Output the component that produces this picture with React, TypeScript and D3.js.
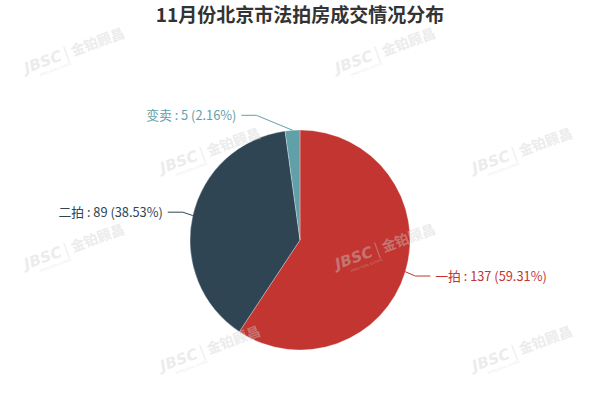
import { useEffect, useRef } from 'react';
import * as d3 from 'd3';

const titleText = '11月份北京市法拍房成交情况分布';
const categories = ['一拍', '二拍', '变卖'];
const values = [137, 89, 5];
const colors = ['#c23531', '#2f4554', '#61a0a8'];

const FONT = '"Microsoft YaHei", "Noto Sans CJK SC", sans-serif';

export default function App() {
  const svgRef = useRef<SVGSVGElement>(null);

  useEffect(() => {
    if (!svgRef.current) return;
    const width = 600;
    const height = 400;
    const cx = width / 2;
    const cy = height * 0.6;
    const radius = 110;
    const len = 15;
    const len2 = 15;

    const root = d3.select(svgRef.current);
    root.selectAll('*').remove();
    root.attr('width', width).attr('height', height);

    root.append('rect').attr('width', width).attr('height', height).attr('fill', '#ffffff');

    // title
    root
      .append('text')
      .attr('x', cx)
      .attr('y', 22)
      .attr('text-anchor', 'middle')
      .attr('font-family', FONT)
      .attr('font-size', 19)
      .attr('font-weight', 'bold')
      .attr('fill', '#333')
      .text(titleText);

    const data = categories.map((c, i) => ({ name: c, value: values[i], color: colors[i] }));
    const total = d3.sum(values);

    const pie = d3
      .pie<{ name: string; value: number; color: string }>()
      .sort(null)
      .value(d => d.value)
      .startAngle(0)
      .endAngle(Math.PI * 2);
    const arcs = pie(data);
    const arc = d3.arc<d3.PieArcDatum<any>>().innerRadius(0).outerRadius(radius);

    const g = root.append('g').attr('transform', `translate(${cx},${cy})`);
    g.selectAll('path.slice')
      .data(arcs)
      .join('path')
      .attr('class', 'slice')
      .attr('d', arc as any)
      .attr('fill', d => d.data.color)
      .attr('stroke', '#fff')
      .attr('stroke-width', 0.3);

    // labels + label lines
    arcs.forEach(a => {
      const mid = (a.startAngle + a.endAngle) / 2;
      const dx = Math.sin(mid);
      const dy = -Math.cos(mid);
      const dir = dx < 0 ? -1 : 1;
      const p0 = [cx + radius * dx, cy + radius * dy];
      const y1 = cy + (radius + len) * dy;
      const deltaY = Math.abs(y1 - cy);
      const R = radius + len + len2;
      const deltaX = Math.sqrt(Math.max(R * R - deltaY * deltaY, 0));
      const textX = cx + dir * deltaX;
      const lineEnd = textX - dir * 5;
      const x1 = lineEnd - dir * len2;

      root
        .append('path')
        .attr('d', d3.line()([[p0[0], p0[1]], [x1, y1], [lineEnd, y1]]))
        .attr('fill', 'none')
        .attr('stroke', a.data.color)
        .attr('stroke-width', 1);

      const pct = ((a.data.value / total) * 100).toFixed(2);
      root
        .append('text')
        .attr('x', textX)
        .attr('y', y1)
        .attr('dy', '0.35em')
        .attr('text-anchor', dir < 0 ? 'end' : 'start')
        .attr('font-family', FONT)
        .attr('font-size', 12.8)
        .attr('fill', a.data.color)
        .text(`${a.data.name} : ${a.data.value} (${pct}%)`);
    });

    // watermark grid
    const wmRows = [50, 150, 246, 348];
    const wmCols = [[74, 385], [210, 522], [74, 385], [210, 522]];
    wmRows.forEach((wy, ri) => {
      wmCols[ri].forEach(wx => {
        const w = root
          .append('g')
          .attr('transform', `translate(${wx},${wy}) rotate(-20)`)
          .attr('opacity', 0.4)
          .attr('fill', '#d0d0d0');
        const t = w
          .append('text')
          .attr('text-anchor', 'middle')
          .attr('dy', '0.35em')
          .attr('font-family', FONT)
          .attr('font-weight', 'bold');
        t.append('tspan').attr('font-size', 15).attr('font-style', 'italic').attr('font-family', 'Verdana, "DejaVu Sans", sans-serif').text('JBSC');
        t.append('tspan').attr('font-size', 15).attr('font-weight', 'normal').text(' | ');
        t.append('tspan').attr('font-size', 14).text('金铂顾昌');
        w.append('text')
          .attr('x', -24)
          .attr('y', 13)
          .attr('text-anchor', 'middle')
          .attr('font-family', 'sans-serif')
          .attr('font-size', 3.5)
          .text('JINBO REAL ESTATE');
      });
    });
  }, []);

  return (
    <div style={{ position: 'fixed', left: 0, top: 0 }}>
      <svg ref={svgRef} style={{ display: 'block' }}></svg>
    </div>
  );
}
